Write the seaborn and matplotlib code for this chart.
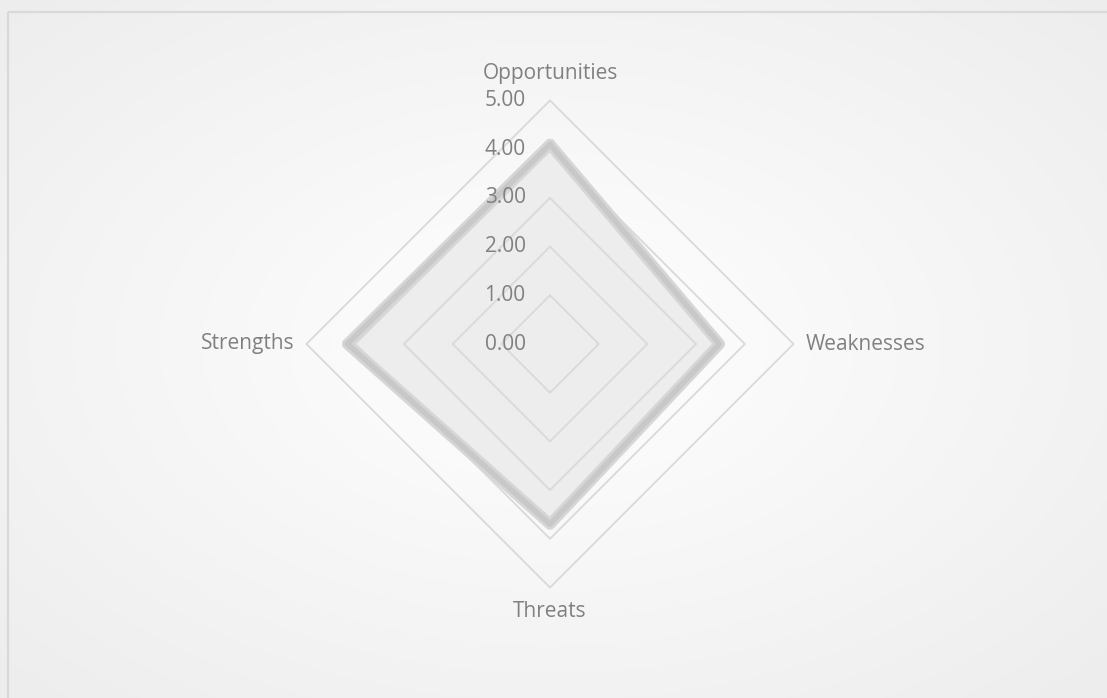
import numpy as np
import pandas as pd
import matplotlib.pyplot as plt
import seaborn as sns

# SWOT scores (clockwise from the top)
categories = ['Opportunities', 'Weaknesses', 'Threats', 'Strengths']
scores = [4.10, 3.48, 3.70, 4.16]
ring_levels = [1, 2, 3, 4, 5]
tick_labels = ['0.00', '1.00', '2.00', '3.00', '4.00', '5.00']

sns.set_style('white')
plt.rcParams['font.family'] = ['Open Sans', 'DejaVu Sans']

W, H = 1107, 698
cx, cy, unit = 550, 344, 48.7   # centre of the radar in pixels and px per unit

fig = plt.figure(figsize=(W / 100, H / 100), dpi=100)

# soft radial background like the Excel chart area
bg = fig.add_axes([0, 0, 1, 1])
yy, xx = np.mgrid[0:H, 0:W]
d = np.sqrt(((xx - cx) / W) ** 2 + ((yy - cy) / H) ** 2)
shade = 1 - 0.07 * np.clip(d / 0.7, 0, 1)
bg.imshow(np.dstack([shade] * 3), extent=[0, W, H, 0], aspect='auto')
bg.add_patch(plt.Rectangle((8, 12), W + 20, H + 20, fill=False, ec='#d9d9d9', lw=1.6))
bg.set_xlim(0, W)
bg.set_ylim(H, 0)
bg.axis('off')

ax = fig.add_axes([0, 0, 1, 1])
ax.patch.set_alpha(0)

# angles: top, right, bottom, left
angles = np.pi / 2 - np.arange(len(categories)) * np.pi / 2
ux, uy = np.round(np.cos(angles), 9), np.round(np.sin(angles), 9)

# data polygon fill (underneath the grid rings)
vals = np.array(scores)
poly = pd.DataFrame({'x': np.append(ux * vals, ux[0] * vals[0]),
                     'y': np.append(uy * vals, uy[0] * vals[0])})
ax.fill(poly['x'], poly['y'], color='#ededed', zorder=1)

# diamond grid rings
for r in ring_levels:
    ring = pd.DataFrame({'x': np.append(ux * r, ux[0] * r),
                         'y': np.append(uy * r, uy[0] * r)})
    sns.lineplot(data=ring, x='x', y='y', sort=False, estimator=None,
                 color='#d9d9d9', lw=1.3, ax=ax, zorder=2)

# data outline with a soft shadow
sns.lineplot(data=poly, x='x', y='y', sort=False, estimator=None,
             color='#d6d6d6', lw=8, ax=ax, zorder=3)
sns.lineplot(data=poly, x='x', y='y', sort=False, estimator=None,
             color='#c8c8c8', lw=4, ax=ax, zorder=4)

ax.set_xlim(-cx / unit, (W - cx) / unit)
ax.set_ylim(-(H - cy) / unit, cy / unit)
ax.axis('off')

# value labels along the top axis
for i, lab in enumerate(tick_labels):
    ax.text(-0.5, i, lab, ha='right', va='center', fontsize=15, color='#808080', zorder=5)

# category labels
txt = dict(fontsize=15, color='#808080')
ax.text(0, 5.55, categories[0], ha='center', va='center', **txt)
ax.text(5.25, 0, categories[1], ha='left', va='center', **txt)
ax.text(0, -5.5, categories[2], ha='center', va='center', **txt)
ax.text(-5.25, 0, categories[3], ha='right', va='center', **txt)

fig.savefig('out.png', dpi=100)
